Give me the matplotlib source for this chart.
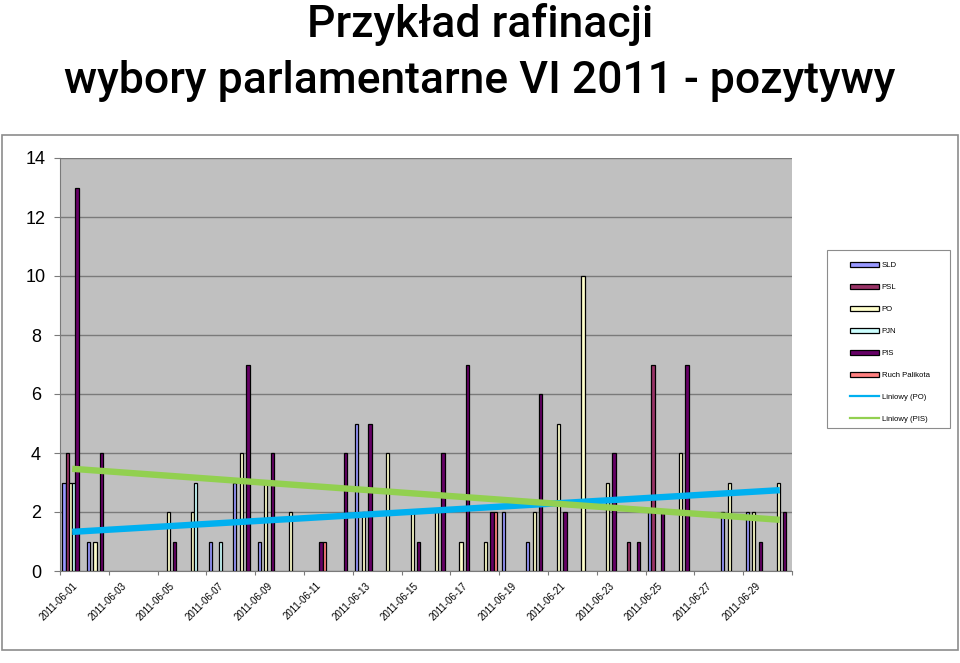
import numpy as np
import matplotlib
matplotlib.use("Agg")
import matplotlib.pyplot as plt
from matplotlib.patches import Rectangle
from matplotlib.lines import Line2D

# ---------------- data ----------------
dates = [f"2011-06-{d:02d}" for d in range(1, 31)]
series_names = ["SLD", "PSL", "PO", "PJN", "PIS", "Ruch Palikota"]
SLD = [3, 1, 0, 0, 0, 0, 1, 3, 1, 0, 0, 0, 5, 0, 0, 0, 0, 0, 2, 1, 0, 0, 0, 0, 2, 0, 0, 2, 2, 0]
PSL = [4, 0, 0, 0, 0, 0, 0, 0, 0, 0, 0, 0, 0, 0, 0, 0, 0, 0, 0, 0, 0, 0, 0, 1, 7, 0, 0, 0, 0, 0]
PO  = [3, 1, 0, 0, 2, 2, 0, 4, 3, 2, 0, 0, 2, 4, 2, 2, 1, 1, 0, 2, 5, 10, 3, 0, 0, 4, 0, 3, 2, 3]
PJN = [3, 0, 0, 0, 0, 3, 1, 0, 0, 0, 0, 0, 0, 0, 0, 0, 0, 0, 0, 0, 0, 0, 0, 0, 0, 0, 0, 0, 0, 0]
PIS = [13, 4, 0, 0, 1, 0, 0, 7, 4, 0, 1, 4, 5, 0, 1, 4, 7, 2, 0, 6, 2, 0, 4, 1, 2, 7, 0, 0, 1, 2]
RP  = [0, 0, 0, 0, 0, 0, 0, 0, 0, 0, 1, 0, 0, 0, 0, 0, 0, 2, 0, 0, 0, 0, 0, 0, 0, 0, 0, 0, 0, 0]
yticks = [0, 2, 4, 6, 8, 10, 12, 14]

series = [SLD, PSL, PO, PJN, PIS, RP]
colors = ["#9999FF", "#993366", "#FFFFCC", "#CCFFFF", "#660066", "#FF8080"]

W, H = 960, 663
fig = plt.figure(figsize=(W / 100, H / 100), dpi=100)
fig.patch.set_facecolor("white")

# Title
title_font = ["Roboto", "DejaVu Sans"]
fig.text(0.5, 1 - 37 / H, "Przykład rafinacji", ha="center", va="baseline",
         fontsize=32, family=title_font, weight="medium", color="black")
fig.text(0.5, 1 - 93 / H, "wybory parlamentarne VI 2011 - pozytywy", ha="center",
         va="baseline", fontsize=32, family=title_font, weight="medium", color="black")

# chart area border
fig.patches.append(Rectangle((2 / W, 1 - 650 / H), 956 / W, (650 - 135) / H,
                             transform=fig.transFigure, facecolor="none",
                             edgecolor="#8c8c8c", lw=1.2, zorder=0))

ax = fig.add_axes([60 / W, 1 - 571 / H, (792 - 60) / W, (571 - 158) / H])
ax.set_facecolor("#C0C0C0")

n = len(dates)
x = np.arange(n)
bw = 1 / 7.5
for k, (vals, col) in enumerate(zip(series, colors)):
    vals = np.array(vals, dtype=float)
    m = vals > 0
    ax.bar(x[m] + (k - 2.5) * bw, vals[m], width=bw, color=col,
           edgecolor="black", linewidth=0.9, zorder=3)

# linear trendlines (Excel style, blanks as zero)
for vals, col in [(PO, "#00B0F0"), (PIS, "#92D050")]:
    c = np.polyfit(x, np.array(vals, dtype=float), 1)
    ax.plot([x[0], x[-1]], np.polyval(c, [x[0], x[-1]]), color=col, lw=4.6,
            solid_capstyle="butt", zorder=4)

ax.set_xlim(-0.5, n - 0.5)
ax.set_ylim(0, 14)
ax.set_yticks(yticks)
ax.set_yticklabels([str(t) for t in yticks], fontsize=13, family="Liberation Sans")
ax.yaxis.grid(True, color="#7a7a7a", lw=1.0, zorder=1)
for lab in ax.get_yticklabels():
    lab.set_horizontalalignment("center")
ax.tick_params(axis="y", length=4, pad=13.3, color="#7a7a7a")

ax.set_xticks(np.arange(-0.5, n, 2))
ax.set_xticklabels([])
ax.tick_params(axis="x", which="major", length=3, color="#7a7a7a")
ax.set_xticks(x[::2], minor=True)
ax.set_xticklabels(dates[::2], minor=True, rotation=45, ha="right",
                   rotation_mode="anchor", fontsize=7, family="Liberation Sans")
ax.tick_params(axis="x", which="minor", length=0, pad=7)

for s in ["top", "right"]:
    ax.spines[s].set_visible(False)
ax.spines["left"].set_color("#7a7a7a")
ax.spines["bottom"].set_color("#7a7a7a")

# legend
handles = [Rectangle((0, 0), 1, 1, facecolor=c, edgecolor="black", lw=0.9)
           for c in colors]
handles += [Line2D([], [], color="#00B0F0", lw=1.6),
            Line2D([], [], color="#92D050", lw=1.6)]
labels = series_names + ["Liniowy (PO)", "Liniowy (PIS)"]
fig.patches.append(Rectangle((827 / W, 1 - 428 / H), (950 - 827) / W, (428 - 250) / H,
                             transform=fig.transFigure, facecolor="white",
                             edgecolor="#8c8c8c", lw=0.8, zorder=1))
leg = fig.legend(handles, labels, loc="upper left",
                 bbox_to_anchor=(846 / W, 1 - 258 / H), frameon=False,
                 prop={"family": "Liberation Sans", "size": 5.6},
                 handlelength=3.7, handleheight=0.6, handletextpad=0.4,
                 labelspacing=1.9, borderpad=0)

fig.savefig("out.png", dpi=100)
